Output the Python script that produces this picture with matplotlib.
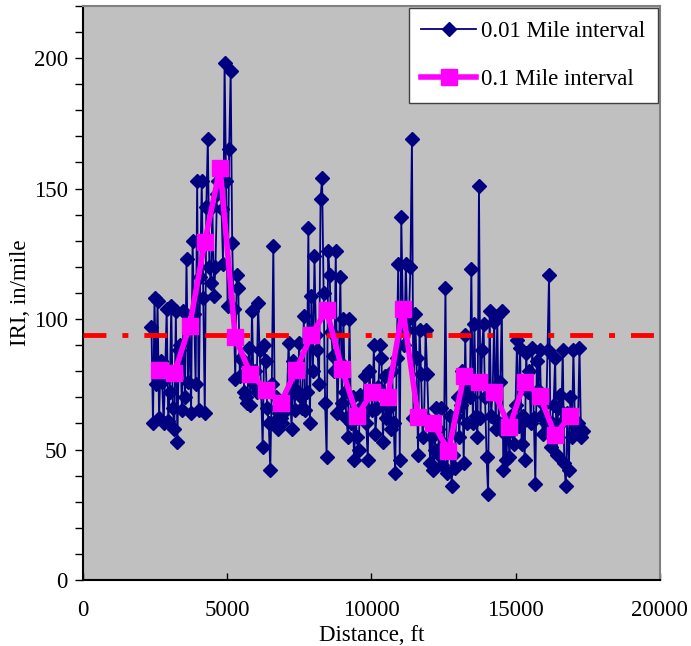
import numpy as np
import matplotlib
matplotlib.use("Agg")
import matplotlib.pyplot as plt
from matplotlib.ticker import MultipleLocator

plt.rcParams['font.family'] = ['Liberation Serif', 'DejaVu Serif']

# IRI every 0.01 mile (52.8 ft), starting at 2376 ft
iri_001 = [
    97, 60, 108, 75, 107, 62, 84, 76, 60, 80,
    104, 61, 72, 105, 66, 58, 103, 53, 88, 90,
    65, 103, 70, 123, 76, 98, 64, 130, 102, 75,
    153, 65, 116, 153, 108, 64, 143, 169, 120, 114,
    143, 109, 120, 148, 153, 155, 142, 121, 198, 153,
    105, 165, 195, 129, 104, 77, 117, 112, 78, 85,
    84, 72, 70, 68, 89, 67, 103, 75, 80, 72,
    106, 88, 72, 51, 90, 84, 66, 60, 42, 75,
    128, 61, 70, 58, 64, 62, 60, 67, 65, 70,
    91, 72, 58, 84, 65, 80, 72, 91, 70, 66,
    101, 65, 72, 135, 60, 109, 80, 124, 94, 88,
    75, 146, 154, 110, 68, 47, 126, 117, 95, 86,
    80, 126, 64, 84, 116, 68, 100, 72, 62, 55,
    100, 60, 70, 46, 62, 55, 50, 71, 63, 67,
    78, 60, 46, 80, 72, 65, 90, 56, 66, 74,
    90, 85, 53, 78, 62, 70, 66, 58, 80, 60,
    41, 85, 121, 46, 139, 104, 90, 121, 96, 100,
    120, 169, 62, 102, 85, 48, 96, 79, 55, 63,
    96, 79, 60, 45, 55, 42, 50, 66, 58, 48,
    66, 44, 52, 112, 41, 50, 63, 36, 48, 43,
    63, 70, 55, 67, 80, 45, 94, 60, 75, 70,
    119, 60, 98, 63, 55, 151, 62, 88, 98, 70,
    47, 33, 103, 63, 73, 99, 58, 101, 60, 76,
    103, 42, 56, 46, 61, 47, 63, 57, 52, 67,
    92, 59, 89, 52, 63, 46, 87, 72, 80, 60,
    89, 62, 37, 84, 73, 88, 63, 56, 67, 60,
    88, 117, 51, 60, 67, 85, 48, 66, 71, 60,
    88, 45, 36, 64, 42, 70, 55, 88, 60, 59,
    60, 89, 55, 57,
]
start_001 = 2376.0
step_001 = 52.8

# IRI every 0.1 mile (528 ft), starting at 2640 ft
iri_01 = [80.5, 79.3, 97.3, 129.5, 158, 93, 79, 73, 68, 80.5, 94, 103.4, 81, 63,
          72, 70, 104, 62.5, 60, 49.5, 78, 76, 72, 58.6, 76, 70.5, 55.6, 63]
start_01 = 2640.0
step_01 = 528.0

threshold = 94

x_001 = start_001 + step_001 * np.arange(len(iri_001))
x_01 = start_01 + step_01 * np.arange(len(iri_01))

fig = plt.figure(figsize=(6.91, 6.46), dpi=100)
ax = fig.add_axes([0.120, 0.102, 0.835, 0.889])
ax.set_facecolor('#C0C0C0')

ax.plot(x_001, iri_001, color='#000080', lw=1.3, marker='D', ms=7,
        mfc='#000080', mec='#000080', label='0.01 Mile interval', zorder=2)
lw_red = 3.5
ax.axhline(threshold, color='#FF0000', lw=lw_red,
           linestyle=(0, (16.5 / lw_red, 11.5 / lw_red, 4.3 / lw_red, 11.5 / lw_red)),
           zorder=3)
ax.plot(x_01, iri_01, color='#FF00FF', lw=4, marker='s', ms=11,
        mfc='#FF00FF', mec='#FF00FF', label='0.1 Mile interval', zorder=4)

ax.set_xlim(0, 20000)
ax.set_ylim(0, 220)
ax.xaxis.set_major_locator(MultipleLocator(5000))
ax.yaxis.set_major_locator(MultipleLocator(50))
ax.yaxis.set_minor_locator(MultipleLocator(10))
ax.tick_params(axis='x', direction='in', length=5, width=1, pad=14, labelsize=16.5)
ax.tick_params(axis='y', which='both', direction='out', length=6, width=1,
               pad=5, labelsize=16.5)
ax.tick_params(axis='y', which='minor', labelleft=False)

for s in ['left', 'bottom']:
    ax.spines[s].set_color('black')
    ax.spines[s].set_linewidth(1.5)
for s in ['top', 'right']:
    ax.spines[s].set_color('#808080')
    ax.spines[s].set_linewidth(1.5)

ax.set_xlabel('Distance, ft', fontsize=16.5, labelpad=3)
ax.set_ylabel('IRI, in/mile', fontsize=16.5, labelpad=2)

leg = ax.legend(loc='upper right', fontsize=16.5, frameon=True, fancybox=False,
                borderaxespad=0.1, handlelength=2.4, handletextpad=0.2,
                labelspacing=1.2, borderpad=0.55)
leg.get_frame().set_edgecolor('#404040')
leg.get_frame().set_linewidth(1.0)
leg.get_frame().set_alpha(1)

fig.savefig('out.png', dpi=100)
